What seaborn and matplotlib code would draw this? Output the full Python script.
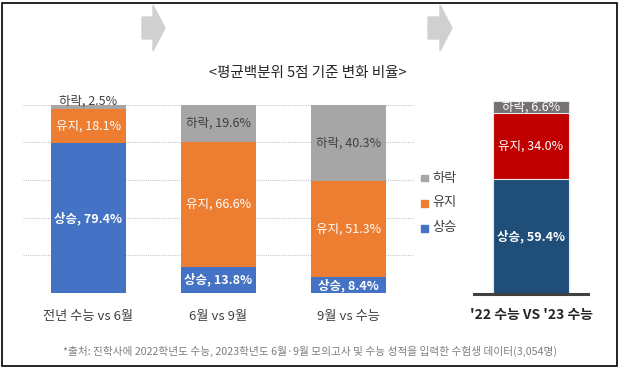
import numpy as np
import pandas as pd
import seaborn as sns
import matplotlib.pyplot as plt
from matplotlib.patches import Polygon, Rectangle

# data
periods = ["전년 수능 vs 6월", "6월 vs 9월", "9월 vs 수능"]
rise = [79.4, 13.8, 8.4]
keep = [18.1, 66.6, 51.3]
fall = [2.5, 19.6, 40.3]

total_label = "'22 수능 VS '23 수능"
total_rise = [59.4]
total_keep = [34.0]
total_fall = [6.6]

series = ["하락", "유지", "상승"]
title = "<평균백분위 5점 기준 변화 비율>"
note = "*출처: 진학사에 2022학년도 수능, 2023학년도 6월·9월 모의고사 및 수능 성적을 입력한 수험생 데이터(3,054명)"

sns.set_theme(style="white")
plt.rcParams['font.family'] = ['Noto Sans CJK KR', 'DejaVu Sans']

W, H = 620, 367
fig = plt.figure(figsize=(W / 100, H / 100), dpi=100)


def px_axes(x0, y0, x1, y1):
    # pixel box (top-left origin) -> figure axes
    return fig.add_axes([x0 / W, 1 - y1 / H, (x1 - x0) / W, (y1 - y0) / H])


def stacked(ax, labels, r, k, f, colors, width, edge):
    df = pd.DataFrame({"cat": labels, "r": r, "k": k, "f": f})
    df["rk"] = df["r"] + df["k"]
    df["rkf"] = df["rk"] + df["f"]
    for col, c in zip(["rkf", "rk", "r"], colors):
        sns.barplot(data=df, x="cat", y=col, color=c, width=width, ax=ax,
                    edgecolor=edge, linewidth=0.8 if edge != "none" else 0,
                    saturation=1, errorbar=None)
    return df


# left chart
ax = px_axes(23, 104.7, 414, 293)
left_colors = ["#a6a6a6", "#ed7d31", "#4472c4"]
df = stacked(ax, periods, rise, keep, fall, left_colors, 0.576, "none")
ax.set_ylim(0, 100)
ax.set_xlim(-0.5, 2.5)
ax.set_yticks(np.arange(0, 101, 20))
ax.yaxis.grid(True, color="#c8c8c8", linestyle=(0, (1, 1)), linewidth=0.8)
ax.set_axisbelow(True)
for s in ax.spines.values():
    s.set_visible(False)
ax.set_xlabel("")
ax.set_ylabel("")
ax.set_yticklabels([])
ax.tick_params(axis="x", length=0, pad=12, labelsize=9.5, colors="#404040")
ax.tick_params(axis="y", length=0)

for i, row in df.iterrows():
    ax.text(i, row["r"] / 2, f"상승, {row['r']}%", ha="center", va="center",
            color="white", fontsize=9, fontweight="bold")
    ax.text(i, row["r"] + row["k"] / 2, f"유지, {row['k']}%", ha="center", va="center",
            color="white", fontsize=9)
    fy = row["rk"] + row["f"] / 2
    if row["f"] < 5:
        fy = 102
    ax.text(i, fy, f"하락, {row['f']}%", ha="center", va="center",
            color="#404040", fontsize=9, clip_on=False)

# legend
for j, (name, c) in enumerate(zip(series, left_colors)):
    y = 178 + j * 25
    fig.patches.append(Rectangle((421 / W, 1 - (y + 3.5) / H), 7 / W, 7 / H,
                                 transform=fig.transFigure, color=c))
    fig.text(432 / W, 1 - y / H, name, ha="left", va="center", fontsize=9.5,
             color="#404040")

# right chart
ax2 = px_axes(474, 100.7, 588, 294)
right_colors = ["#767171", "#c00000", "#1f4e79"]
df2 = stacked(ax2, [total_label], total_rise, total_keep, total_fall,
              right_colors, 0.658, "#e8e8e8")
ax2.set_ylim(0, 100)
ax2.set_xlim(-0.5, 0.5)
for s in ["top", "left", "right"]:
    ax2.spines[s].set_visible(False)
ax2.spines["bottom"].set_color("#404040")
ax2.spines["bottom"].set_linewidth(2.2)
ax2.set_yticks([])
ax2.set_xlabel("")
ax2.set_ylabel("")
ax2.tick_params(axis="x", length=0, pad=10, labelsize=10, colors="#262626")
for t in ax2.get_xticklabels():
    t.set_fontweight("semibold")
row = df2.iloc[0]
ax2.text(0, row["r"] / 2, f"상승, {row['r']}%", ha="center", va="center",
         color="white", fontsize=9, fontweight="bold")
ax2.text(0, row["r"] + row["k"] / 2, f"유지, {row['k']:.1f}%", ha="center", va="center",
         color="white", fontsize=9)
ax2.text(0, row["rk"] + row["f"] / 2, f"하락, {row['f']}%", ha="center", va="center",
         color="white", fontsize=9)

# title and footnote
fig.text(308 / W, 1 - 73 / H, title, ha="center", va="center", fontsize=10.5,
         color="#262626")
fig.text(310 / W, 1 - 351 / H, note, ha="center", va="center", fontsize=7.7,
         color="#7f7f7f")

# arrows
for x0 in [142, 428]:
    body = 11 if x0 == 142 else 12
    pts = [(x0, 17), (x0 + body, 17), (x0 + body, 5), (x0 + body + 12, 28),
           (x0 + body, 51), (x0 + body, 39), (x0, 39)]
    fig.patches.append(Polygon([(x / W, 1 - y / H) for x, y in pts], closed=True,
                               transform=fig.transFigure, color="#d0d0d0"))

# frame
fig.patches.append(Rectangle((1.5 / W, 1.5 / H), (W - 5) / W, (H - 4) / H,
                             transform=fig.transFigure, fill=False,
                             edgecolor="black", linewidth=1.2))

fig.savefig("out.png", dpi=100)
